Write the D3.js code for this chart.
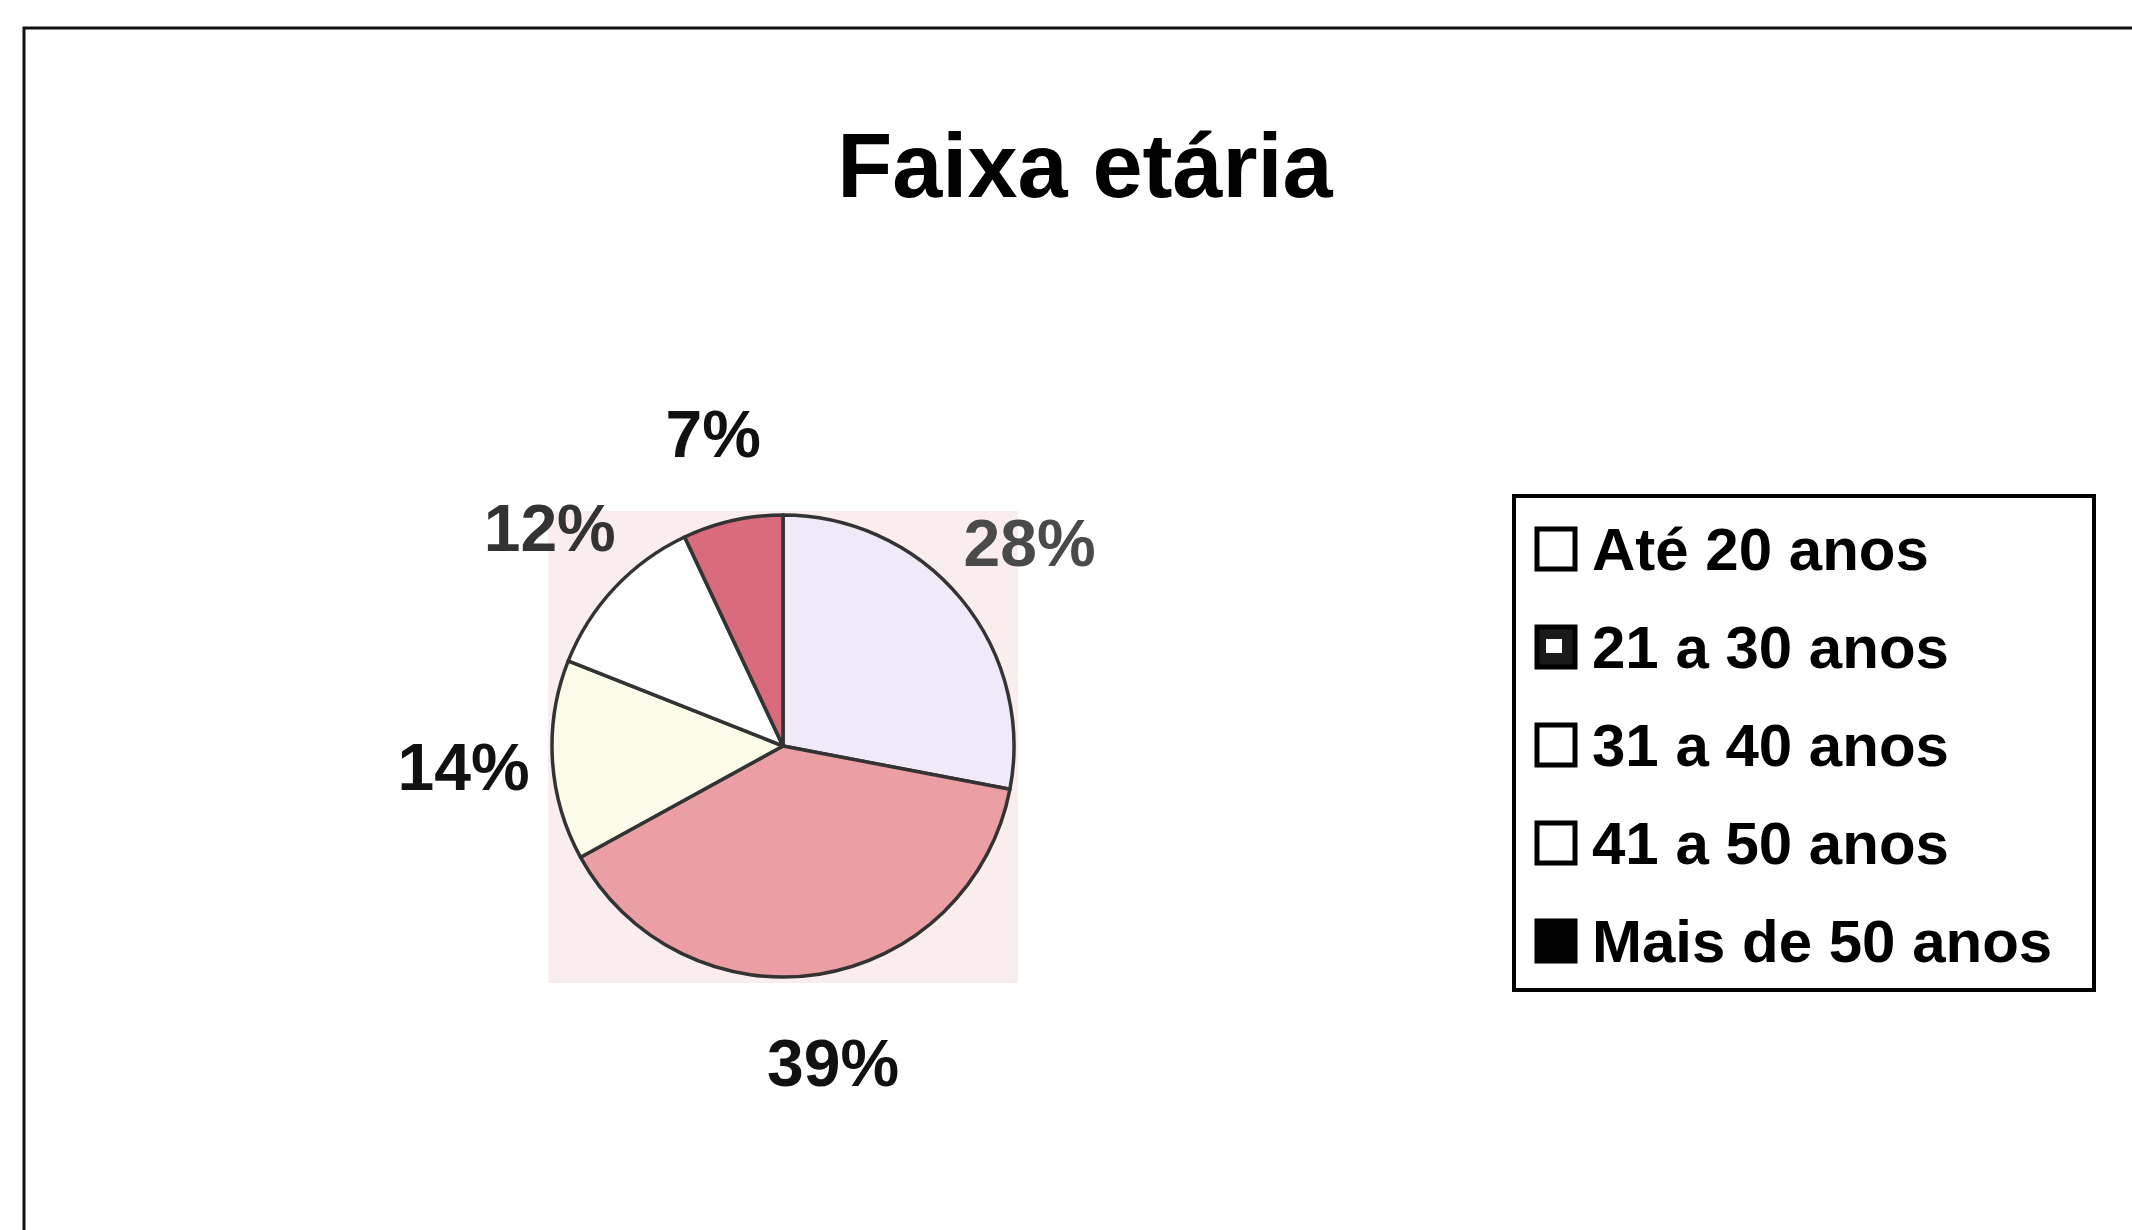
<!DOCTYPE html>
<html><head><meta charset="utf-8">
<script src="https://cdn.jsdelivr.net/npm/d3@7"></script>
<style>html,body{margin:0;padding:0;background:#fff;}svg{display:block;}</style>
</head><body>
<svg id="c" width="2132" height="1230"></svg>
<script>
const categories = ["Até 20 anos", "21 a 30 anos", "31 a 40 anos", "41 a 50 anos", "Mais de 50 anos"];
const values = [28, 39, 14, 12, 7];
const sliceColors = ["#efe9f8", "#eb9ea3", "#fbfbe9", "#fefefe", "#d96b7d"];
const labelColors = ["#4a4a4a", "#111", "#111", "#333", "#111"];
const legendFill = ["#fff", "#1a1a1a", "#fff", "#fff", "#000"];
const title = "Faixa etária";

const svg = d3.select("#c");
const font = "'Liberation Sans', Arial, sans-serif";

// frame
svg.append("path").attr("d", "M24,1230 L24,28 L2132,28")
  .attr("fill", "none").attr("stroke", "#111").attr("stroke-width", 3);

svg.append("text").attr("x", 1085).attr("y", 197).attr("text-anchor", "middle")
  .attr("font-family", font).attr("font-weight", "bold").attr("font-size", 90)
  .attr("fill", "#000").text(title);

const cx = 783, cy = 746, r = 231;
// faint scan background behind pie
svg.append("rect").attr("x", cx - 235).attr("y", cy - 235).attr("width", 470).attr("height", 472)
  .attr("fill", "#f7e6e6").attr("opacity", 0.7);

const g = svg.append("g").attr("transform", `translate(${cx},${cy})`);
const pie = d3.pie().sort(null).value(d => d)(values);
const arc = d3.arc().innerRadius(0).outerRadius(r);
const labelArc = d3.arc().innerRadius(320).outerRadius(320);

g.selectAll("path.s").data(pie).join("path").attr("class", "s")
  .attr("d", arc).attr("fill", (d, i) => sliceColors[i])
  .attr("stroke", "#333").attr("stroke-width", 3.5).attr("stroke-linejoin", "round");

g.selectAll("text.l").data(pie).join("text").attr("class", "l")
  .attr("transform", d => `translate(${labelArc.centroid(d)})`)
  .attr("text-anchor", "middle").attr("dy", "0.36em")
  .attr("font-family", font).attr("font-weight", "bold").attr("font-size", 66)
  .attr("fill", (d, i) => labelColors[i])
  .text(d => d.data + "%");

// legend
const lg = svg.append("g");
lg.append("rect").attr("x", 1514).attr("y", 496).attr("width", 580).attr("height", 494)
  .attr("fill", "#fff").attr("stroke", "#000").attr("stroke-width", 4);
const ly = d3.scalePoint().domain(categories).range([549, 941]);
const items = lg.selectAll("g.it").data(categories).join("g").attr("class", "it")
  .attr("transform", d => `translate(0,${ly(d)})`);
items.append("rect").attr("x", 1537).attr("y", -20).attr("width", 38).attr("height", 40)
  .attr("fill", (d, i) => legendFill[i]).attr("stroke", "#000").attr("stroke-width", 5);
items.filter((d, i) => i === 1).append("rect").attr("x", 1546).attr("y", -8)
  .attr("width", 16).attr("height", 14).attr("fill", "#fff");
items.append("text").attr("x", 1592).attr("y", 21)
  .attr("font-family", font).attr("font-weight", "bold").attr("font-size", 60)
  .attr("fill", "#000").text(d => d);
</script>
</body></html>
